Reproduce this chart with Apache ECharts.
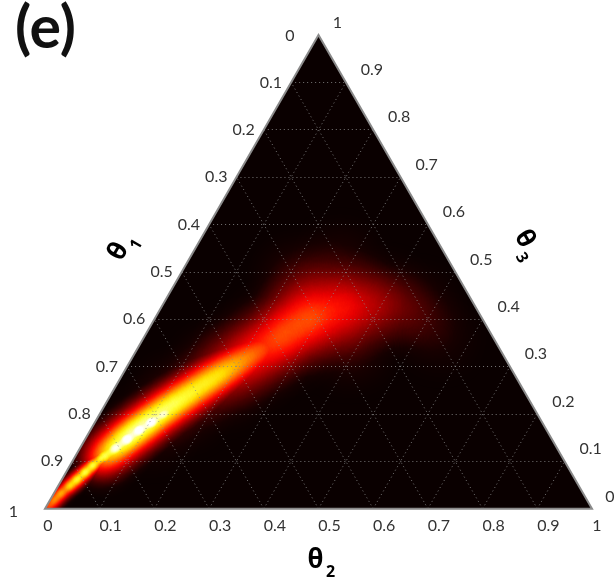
<!DOCTYPE html>
<html>
<head>
<meta charset="utf-8">
<title>Ternary density (e)</title>
<script src="https://cdn.jsdelivr.net/npm/echarts@6.0.0/dist/echarts.min.js"></script>
<style>
  html, body { margin: 0; padding: 0; background: #fff; }
  #chart { width: 614px; height: 584px; }
</style>
</head>
<body>
<div id="chart"></div>
<script>
// Ticks along each edge of the simplex
const ticks = [0, 0.1, 0.2, 0.3, 0.4, 0.5, 0.6, 0.7, 0.8, 0.9, 1];
const gridLevels = [0.1, 0.2, 0.3, 0.4, 0.5, 0.6, 0.7, 0.8, 0.9];
const axisNames = ['1', '2', '3']; // subscripts of θ

// Density, as [θ2, θ3, weight]; θ1 = 1 - θ2 - θ3
// wide dark-red glow round the plume
const glowPoints = [
    [0.104, 0.175, 0.20],
    [0.133, 0.228, 0.35],
    [0.179, 0.283, 0.55],
    [0.213, 0.323, 0.62],
    [0.248, 0.363, 0.75],
    [0.284, 0.401, 0.72],
    [0.334, 0.429, 0.58],
    [0.395, 0.435, 0.40],
    [0.467, 0.418, 0.22],
    [0.228, 0.477, 0.28],
    [0.280, 0.519, 0.15],
    [0.386, 0.344, 0.20],
    [0.540, 0.365, 0.10]
];
// body of the plume (yellow / orange / red)
const plumePoints = [
    [0.048, 0.106, 0.80],
    [0.063, 0.131, 0.90],
    [0.077, 0.156, 0.98],
    [0.093, 0.179, 0.98],
    [0.109, 0.203, 0.92],
    [0.126, 0.224, 0.88],
    [0.143, 0.245, 0.84],
    [0.160, 0.266, 0.80],
    [0.177, 0.285, 0.76],
    [0.195, 0.304, 0.70],
    [0.213, 0.323, 0.62],
    [0.231, 0.342, 0.53],
    [0.250, 0.359, 0.45]
];
// white centre of the plume
const corePoints = [
    [0.051, 0.110, 0.85],
    [0.064, 0.129, 0.95],
    [0.076, 0.148, 1.00],
    [0.088, 0.167, 1.00],
    [0.102, 0.184, 1.00],
    [0.116, 0.201, 0.90],
    [0.129, 0.217, 0.75]
];
// thin tip running into the θ1 = 1 corner
const tipPoints = [
    [0.002, 0.004, 0.62],
    [0.007, 0.019, 0.68],
    [0.012, 0.034, 0.76],
    [0.020, 0.049, 0.83],
    [0.027, 0.063, 0.88],
    [0.034, 0.078, 0.92],
    [0.041, 0.093, 0.93],
    [0.049, 0.108, 0.90],
    [0.057, 0.120, 0.85]
];

// "hot" colour scale laid over the heat layer's accumulated alpha
const hotRamp = ['#0a0000', '#170000', '#300000', '#4a0000', '#650000', '#820000', '#a20000',
    '#c30000', '#e80000', '#ff1000', '#ff3b00', '#ff6b00', '#ffa000', '#ffdd00', '#ffff36',
    '#ffffb2', '#ffffff', '#ffffff', '#ffffff', '#ffffff', '#ffffff'];

const H = Math.sqrt(3) / 2;
// ternary -> plane (lng/lat of the registered triangle)
function tern(t1, t2, t3) {
    return [t2 + t3 / 2, t3 * H];
}

echarts.registerMap('simplex', {
    type: 'FeatureCollection',
    features: [{
        type: 'Feature',
        properties: { name: 'simplex' },
        geometry: { type: 'Polygon', coordinates: [[[0, 0], [1, 0], [0.5, H], [0, 0]]] }
    }]
});

const toGeo = p => tern(1 - p[0] - p[1], p[0], p[1]).concat([p[2]]);

// grid lines: constant θ3, constant θ2, constant θ1
const gridLines = [];
gridLevels.forEach(v => {
    gridLines.push({ coords: [tern(1 - v, 0, v), tern(0, 1 - v, v)] });
    gridLines.push({ coords: [tern(1 - v, v, 0), tern(0, v, 1 - v)] });
    gridLines.push({ coords: [tern(v, 1 - v, 0), tern(v, 0, 1 - v)] });
});

// tick label anchors: [lng, lat, edge, tickIndex]
const labelItems = [];
ticks.forEach((v, i) => {
    labelItems.push(tern(v, 0, 1 - v).concat([0, i]));   // left edge, θ1
    labelItems.push(tern(1 - v, v, 0).concat([1, i]));   // bottom edge, θ2
    labelItems.push(tern(0, 1 - v, v).concat([2, i]));   // right edge, θ3
});

// label offsets per edge: [dx, dy, align] for first, middle, last tick
const labelOffsets = [
    { first: [-24, 1, 'right'], mid: [-9, 0, 'right'], last: [-27, 3, 'right'] },
    { first: [3, 17, 'center'], mid: [11, 17, 'center'], last: [5, 17, 'center'] },
    { first: [18, -12, 'center'], mid: [26, -12.5, 'center'], last: [19, -12, 'center'] }
];

// axis titles anchored at edge midpoints
const titleItems = [
    tern(0.5, 0, 0.5).concat([0]),
    tern(0.5, 0.5, 0).concat([1]),
    tern(0, 0.5, 0.5).concat([2])
];
const titleOffsets = [[-58, -23, Math.PI / 3], [2, 55, 0], [69, -27, -Math.PI / 3]];

const TOP = 4; // zlevel of mask, grid and text

const chart = echarts.init(document.getElementById('chart'));

function heatLayer(name, data, pointSize, blurSize, zlevel) {
    return {
        type: 'heatmap',
        name: name,
        coordinateSystem: 'geo',
        geoIndex: 0,
        silent: true,
        pointSize: pointSize,
        blurSize: blurSize,
        minOpacity: 1,
        maxOpacity: 1,
        zlevel: zlevel,
        data: data.map(toGeo)
    };
}

chart.setOption({
    animation: false,
    backgroundColor: '#fff',
    title: {
        text: '(e)',
        left: 10,
        top: -6,
        zlevel: TOP,
        textStyle: { fontFamily: 'Lato', fontWeight: 'bold', fontSize: 59, color: '#111' }
    },
    geo: {
        map: 'simplex',
        aspectScale: 1,
        left: 45,
        top: 35,
        width: 547,
        height: 473.7,
        roam: false,
        silent: true,
        label: { show: false },
        itemStyle: { areaColor: '#0a0000', borderWidth: 0 },
        emphasis: { disabled: true },
        select: { disabled: true }
    },
    visualMap: {
        type: 'continuous',
        show: false,
        min: 0,
        max: 1,
        seriesIndex: [0, 1, 2, 3],
        inRange: { color: hotRamp }
    },
    series: [
        heatLayer('glow', glowPoints, 24, 40, 0),
        heatLayer('plume', plumePoints, 16, 26, 1),
        heatLayer('core', corePoints, 10, 12, 2),
        heatLayer('tip', tipPoints, 7, 10, 3),
        {
            // white mask outside the triangle + frame
            type: 'custom',
            name: 'frame',
            coordinateSystem: 'geo',
            geoIndex: 0,
            silent: true,
            zlevel: TOP,
            z: 1,
            data: [[0, 0]],
            renderItem: (params, api) => {
                const A = api.coord([0, 0]);
                const B = api.coord([1, 0]);
                const C = api.coord([0.5, H]);
                const TL = api.coord([0, H]);
                const TR = api.coord([1, H]);
                return {
                    type: 'group',
                    children: [
                        { type: 'polygon', shape: { points: [A, C, [C[0], TL[1] - 4], [TL[0] - 4, TL[1] - 4], [A[0] - 4, A[1] + 1]] }, style: { fill: '#fff' } },
                        { type: 'polygon', shape: { points: [B, C, [C[0], TR[1] - 4], [TR[0] + 4, TR[1] - 4], [B[0] + 4, B[1] + 1]] }, style: { fill: '#fff' } },
                        { type: 'polygon', shape: { points: [A, B, C] }, style: { fill: 'none', stroke: '#8a8a8a', lineWidth: 2, lineJoin: 'miter' } }
                    ]
                };
            }
        },
        {
            type: 'lines',
            name: 'grid',
            coordinateSystem: 'geo',
            geoIndex: 0,
            polyline: false,
            silent: true,
            zlevel: TOP,
            z: 2,
            lineStyle: { color: '#8a8a8a', width: 1, type: [1, 3], opacity: 0.85 },
            data: gridLines
        },
        {
            type: 'custom',
            name: 'tickLabels',
            coordinateSystem: 'geo',
            geoIndex: 0,
            silent: true,
            zlevel: TOP,
            z: 3,
            data: labelItems,
            renderItem: (params, api) => {
                const p = api.coord([api.value(0), api.value(1)]);
                const edge = api.value(2);
                const i = api.value(3);
                const set = labelOffsets[edge];
                const off = i === 0 ? set.first : (i === ticks.length - 1 ? set.last : set.mid);
                return {
                    type: 'text',
                    x: p[0] + off[0],
                    y: p[1] + off[1],
                    style: {
                        text: String(ticks[i]),
                        align: off[2],
                        verticalAlign: 'middle',
                        fontFamily: 'Lato',
                        fontSize: 16,
                        fill: '#333'
                    }
                };
            }
        },
        {
            type: 'custom',
            name: 'axisTitles',
            coordinateSystem: 'geo',
            geoIndex: 0,
            silent: true,
            zlevel: TOP,
            z: 3,
            data: titleItems,
            renderItem: (params, api) => {
                const p = api.coord([api.value(0), api.value(1)]);
                const k = api.value(2);
                const off = titleOffsets[k];
                return {
                    type: 'group',
                    x: p[0] + off[0],
                    y: p[1] + off[1],
                    rotation: off[2],
                    children: [
                        { type: 'text', x: -5, y: -3, style: { text: 'θ', align: 'center', verticalAlign: 'middle', fontFamily: 'Noto Sans', fontWeight: 'bold', fontSize: 26, fill: '#000' } },
                        { type: 'text', x: 10, y: 9, style: { text: axisNames[k], align: 'center', verticalAlign: 'middle', fontFamily: 'Noto Sans', fontWeight: 'bold', fontSize: 16, fill: '#000' } }
                    ]
                };
            }
        }
    ]
});

// The heat layers sit on their own canvases; keep the brightest value of
// each pixel (the "hot" scale rises in every channel, so lighten = max).
const painter = chart.getZr().painter;
[1, 2, 3].forEach(z => {
    const layer = painter.getLayer ? painter.getLayer(z) : null;
    const dom = layer && layer.dom ? layer.dom : document.querySelector('#chart canvas[data-zr-dom-id="zr_' + z + '"]');
    if (dom) {
        dom.style.mixBlendMode = 'lighten';
    }
});
</script>
</body>
</html>
